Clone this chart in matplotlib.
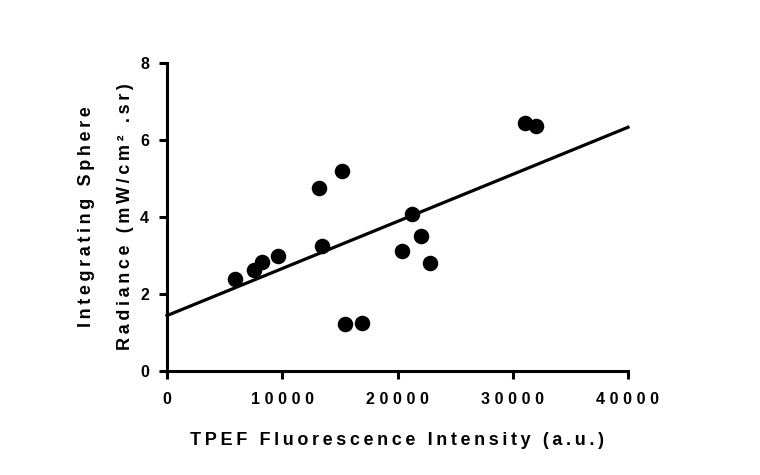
import matplotlib
matplotlib.use('Agg')
import matplotlib.pyplot as plt
import numpy as np

# TPEF intensity vs integrating sphere radiance
tpef = [5900, 7580, 8270, 9660, 13160, 13450, 15160, 15470, 16890,
        20360, 21290, 22040, 22850, 31060, 32020]
radiance = [2.38, 2.62, 2.84, 2.99, 4.75, 3.25, 5.19, 1.21, 1.24,
            3.12, 4.08, 3.51, 2.80, 6.45, 6.36]

xticks = [0, 10000, 20000, 30000, 40000]
yticks = [0, 2, 4, 6, 8]

plt.rcParams['font.family'] = ['Liberation Sans', 'DejaVu Sans']
plt.rcParams['font.weight'] = 'bold'

def spaced(s, gap='\u2009'):
    return gap.join(s)

fig = plt.figure(figsize=(7.6, 4.75), dpi=100)
ax = fig.add_axes([167/760, 1-371/475, (628-167)/760, (371-63)/475])

ax.scatter(tpef, radiance, s=125, color='black', zorder=3, linewidths=0)

# linear fit
slope, icept = np.polyfit(tpef, radiance, 1)
xf = np.array([0, 40000])
ax.plot(xf, icept + slope*xf, color='black', lw=2.3, clip_on=False)

ax.set_xlim(0, 40000)
ax.set_ylim(0, 8)
ax.set_xticks(xticks)
ax.set_yticks(yticks)
ax.set_xticklabels([spaced(str(t), '\u2009\u200a') for t in xticks],
                   fontsize=11.5, fontweight='bold')
ax.set_yticklabels([str(t) for t in yticks], fontsize=11.5, fontweight='bold')

for sp in ['top', 'right']:
    ax.spines[sp].set_visible(False)
for sp in ['left', 'bottom']:
    ax.spines[sp].set_linewidth(2.2)
ax.tick_params(direction='out', length=6, width=2.2)
ax.tick_params(axis='x', pad=9)
ax.tick_params(axis='y', pad=7)

ax.set_xlabel(spaced('TPEF Fluorescence Intensity (a.u.)'), fontsize=13,
              fontweight='bold', labelpad=18)
ax.set_ylabel(spaced('Integrating Sphere') + '\n' + spaced('Radiance (mW/cm² .sr)'),
              fontsize=13, fontweight='bold', labelpad=4, linespacing=2.7)

fig.savefig('out.png', dpi=100)
